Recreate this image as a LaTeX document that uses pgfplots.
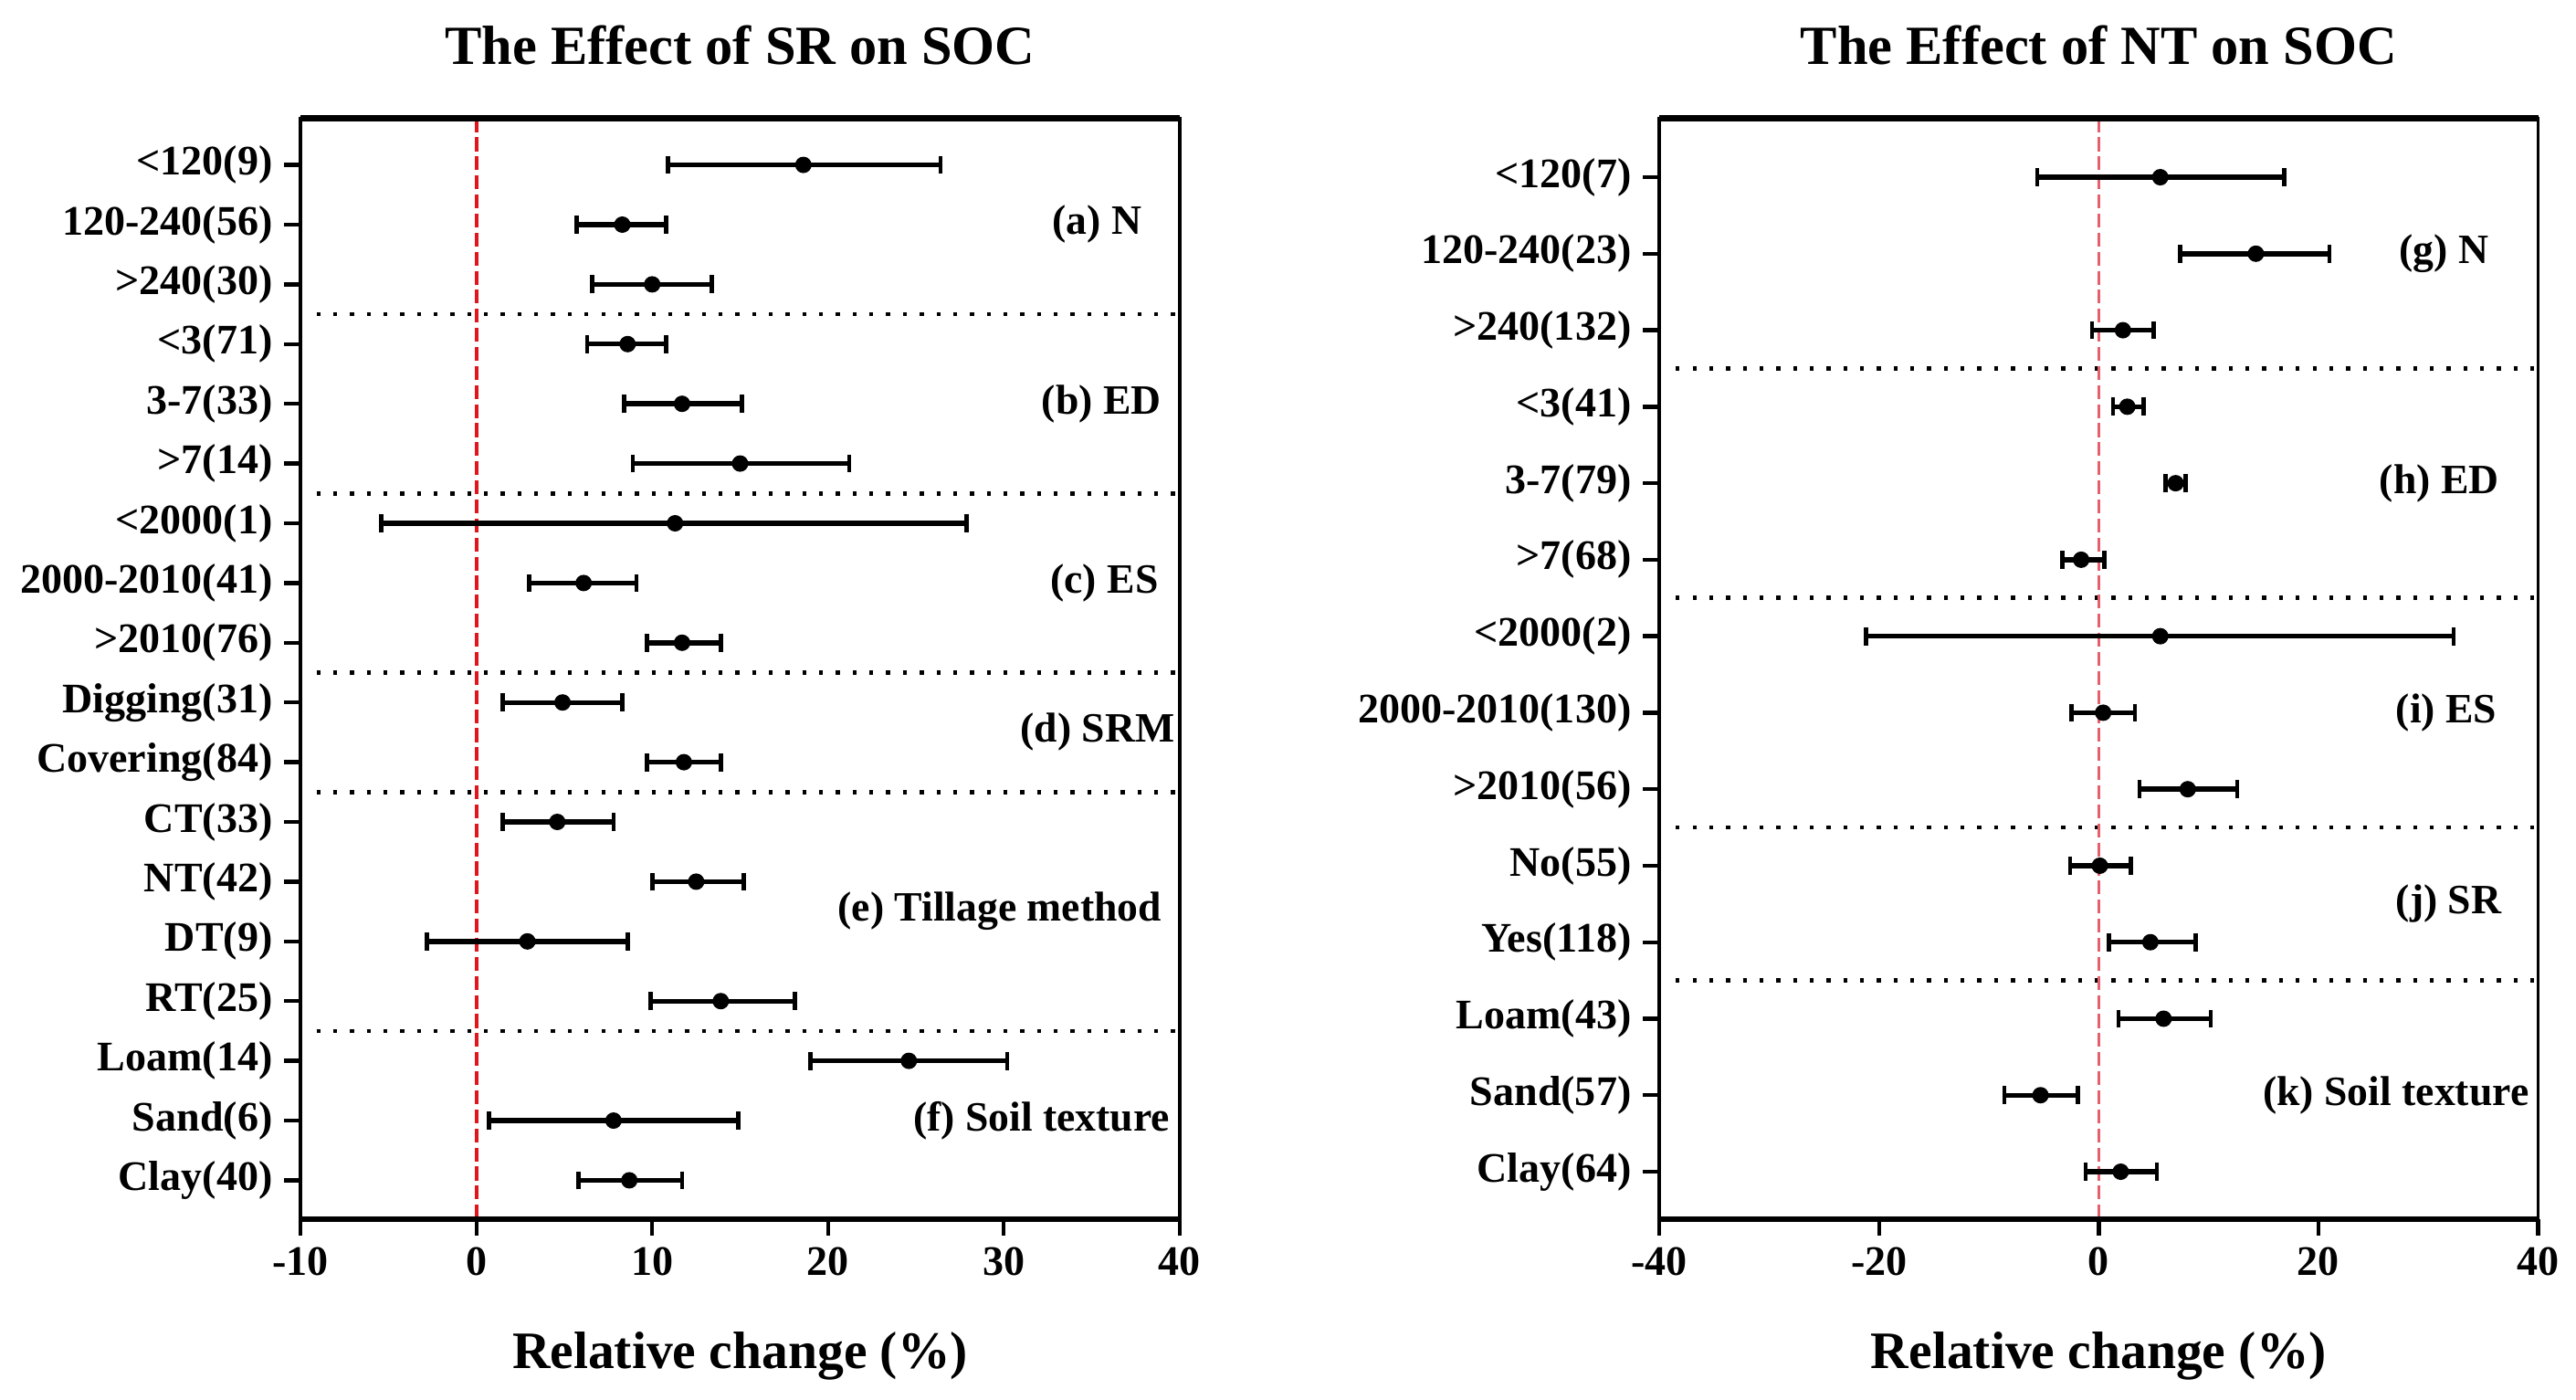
\documentclass[border=0pt]{standalone}
\usepackage{fontspec}
\setmainfont{Liberation Serif}
\usepackage{pgfplots}
\pgfplotsset{compat=1.18}
\usepackage{pgfplotstable}

\definecolor{zeroleft}{HTML}{E0161C}
\definecolor{zeroright}{HTML}{E5606C}

% mean and 95% CI of the relative change, rows top to bottom
\pgfplotstableread{
pos mean lo hi
1 18.6 10.9 26.4
2 8.3 5.7 10.8
3 10.0 6.6 13.4
4 8.6 6.3 10.8
5 11.7 8.4 15.1
6 15.0 8.9 21.2
7 11.3 -5.4 27.9
8 6.1 3.0 9.1
9 11.7 9.7 13.9
10 4.9 1.5 8.3
11 11.8 9.7 13.9
12 4.6 1.5 7.8
13 12.5 10.0 15.2
14 2.9 -2.8 8.6
15 13.9 9.9 18.1
16 24.6 19.0 30.2
17 7.8 0.7 14.9
18 8.7 5.8 11.7
}\srdata

\pgfplotstableread{
pos mean lo hi
1 5.6 -5.6 16.9
2 14.3 7.4 21.0
3 2.2 -0.6 5.0
4 2.6 1.3 4.1
5 7.0 6.1 7.9
6 -1.6 -3.3 0.5
7 5.6 -21.2 32.3
8 0.4 -2.5 3.3
9 8.1 3.7 12.6
10 0.1 -2.6 2.9
11 4.7 0.9 8.8
12 5.9 1.8 10.2
13 -5.3 -8.6 -1.9
14 2.0 -1.2 5.3
}\ntdata

\pgfplotsset{
  forest/.style={
    scale only axis, width=267.5pt, height=335pt,
    y dir=reverse, clip=false,
    axis line style={line width=1pt},
    tick align=outside, tick pos=left, major tick length=5pt,
    every tick/.style={line width=1.2pt, black},
    ticklabel style={font=\fontsize{12.8}{15}\selectfont\bfseries},
    xlabel={Relative change (\%)},
    xlabel style={font=\fontsize{16}{19}\selectfont\bfseries, at={(0.5,0)}, anchor=center, yshift=-41.6pt},
    title style={font=\fontsize{16.8}{19}\selectfont\bfseries, at={(0.5,1)}, anchor=center, yshift=16.3pt},
  },
  ci/.style={only marks, black, mark=*, mark size=2.3pt, mark options={fill=black},
    error bars/.cd, x dir=both, x explicit, error mark=|,
    error bar style={line width=1.5pt},
    error mark options={line width=1.3pt, mark size=2.75pt}},
  sep/.style={black, line width=1.3pt, dash pattern=on 1.2pt off 3.9pt},
}
\tikzset{lab/.style={anchor=west, font=\fontsize{12.7}{15}\selectfont\bfseries}}

\begin{document}
\begin{tikzpicture}
\path[use as bounding box] (-91.5pt,-55pt) rectangle (692.5pt,371pt);
\begin{axis}[forest, at={(0,0)}, anchor=south west, name=sr,
  title={The Effect of SR on SOC},
  xmin=-10, xmax=40, ymin=0.22, ymax=18.65,
  xtick={-10,0,10,20,30,40}, xticklabels={-10,0,10,20,30,40},
  ytick={1,...,18},
  yticklabels={<120(9),120-240(56),>240(30),<3(71),3-7(33),>7(14),<2000(1),2000-2010(41),>2010(76),Digging(31),Covering(84),CT(33),NT(42),DT(9),RT(25),Loam(14),Sand(6),Clay(40)},
]
\pgfplotsinvokeforeach{3.5,6.5,9.5,11.5,15.5}{
  \addplot[sep] coordinates {(-9.1,#1) (40,#1)};
}
\addplot[zeroleft, line width=1.2pt, dash pattern=on 4.2pt off 1.6pt] coordinates {(0,0.22) (0,18.65)};
\addplot[ci] table[x=mean, y=pos,
  x error plus expr={\thisrow{hi}-\thisrow{mean}},
  x error minus expr={\thisrow{mean}-\thisrow{lo}}]{\srdata};
\draw[line width=1.8pt] (rel axis cs:0,0) -- (rel axis cs:1,0);
\draw[line width=1.8pt] (rel axis cs:0,1) -- (rel axis cs:1,1);
\node[lab] at (axis cs:32.1,2) {(a) N};
\node[lab] at (axis cs:31.5,5) {(b) ED};
\node[lab] at (axis cs:32.0,8) {(c) ES};
\node[lab] at (axis cs:30.3,10.5) {(d) SRM};
\node[lab] at (axis cs:19.9,13.5) {(e) Tillage method};
\node[lab] at (axis cs:24.2,17) {(f) Soil texture};
\end{axis}

\begin{axis}[forest, at={(413.5pt,0)}, anchor=south west, name=nt,
  title={The Effect of NT on SOC},
  xmin=-40, xmax=40, ymin=0.23, ymax=14.62,
  xtick={-40,-20,0,20,40}, xticklabels={-40,-20,0,20,40},
  ytick={1,...,14},
  yticklabels={<120(7),120-240(23),>240(132),<3(41),3-7(79),>7(68),<2000(2),2000-2010(130),>2010(56),No(55),Yes(118),Loam(43),Sand(57),Clay(64)},
]
\pgfplotsinvokeforeach{3.5,6.5,9.5,11.5}{
  \addplot[sep] coordinates {(-38.5,#1) (40,#1)};
}
\addplot[zeroright, line width=1pt, dash pattern=on 4.2pt off 1.6pt] coordinates {(0,0.23) (0,14.62)};
\addplot[ci] table[x=mean, y=pos,
  x error plus expr={\thisrow{hi}-\thisrow{mean}},
  x error minus expr={\thisrow{mean}-\thisrow{lo}}]{\ntdata};
\draw[line width=1.8pt] (rel axis cs:0,0) -- (rel axis cs:1,0);
\draw[line width=1.8pt] (rel axis cs:0,1) -- (rel axis cs:1,1);
\node[lab] at (axis cs:26.3,2) {(g) N};
\node[lab] at (axis cs:24.5,5) {(h) ED};
\node[lab] at (axis cs:26.0,8) {(i) ES};
\node[lab] at (axis cs:26.0,10.5) {(j) SR};
\node[lab] at (axis cs:13.9,13) {(k) Soil texture};
\end{axis}
\end{tikzpicture}
\end{document}
